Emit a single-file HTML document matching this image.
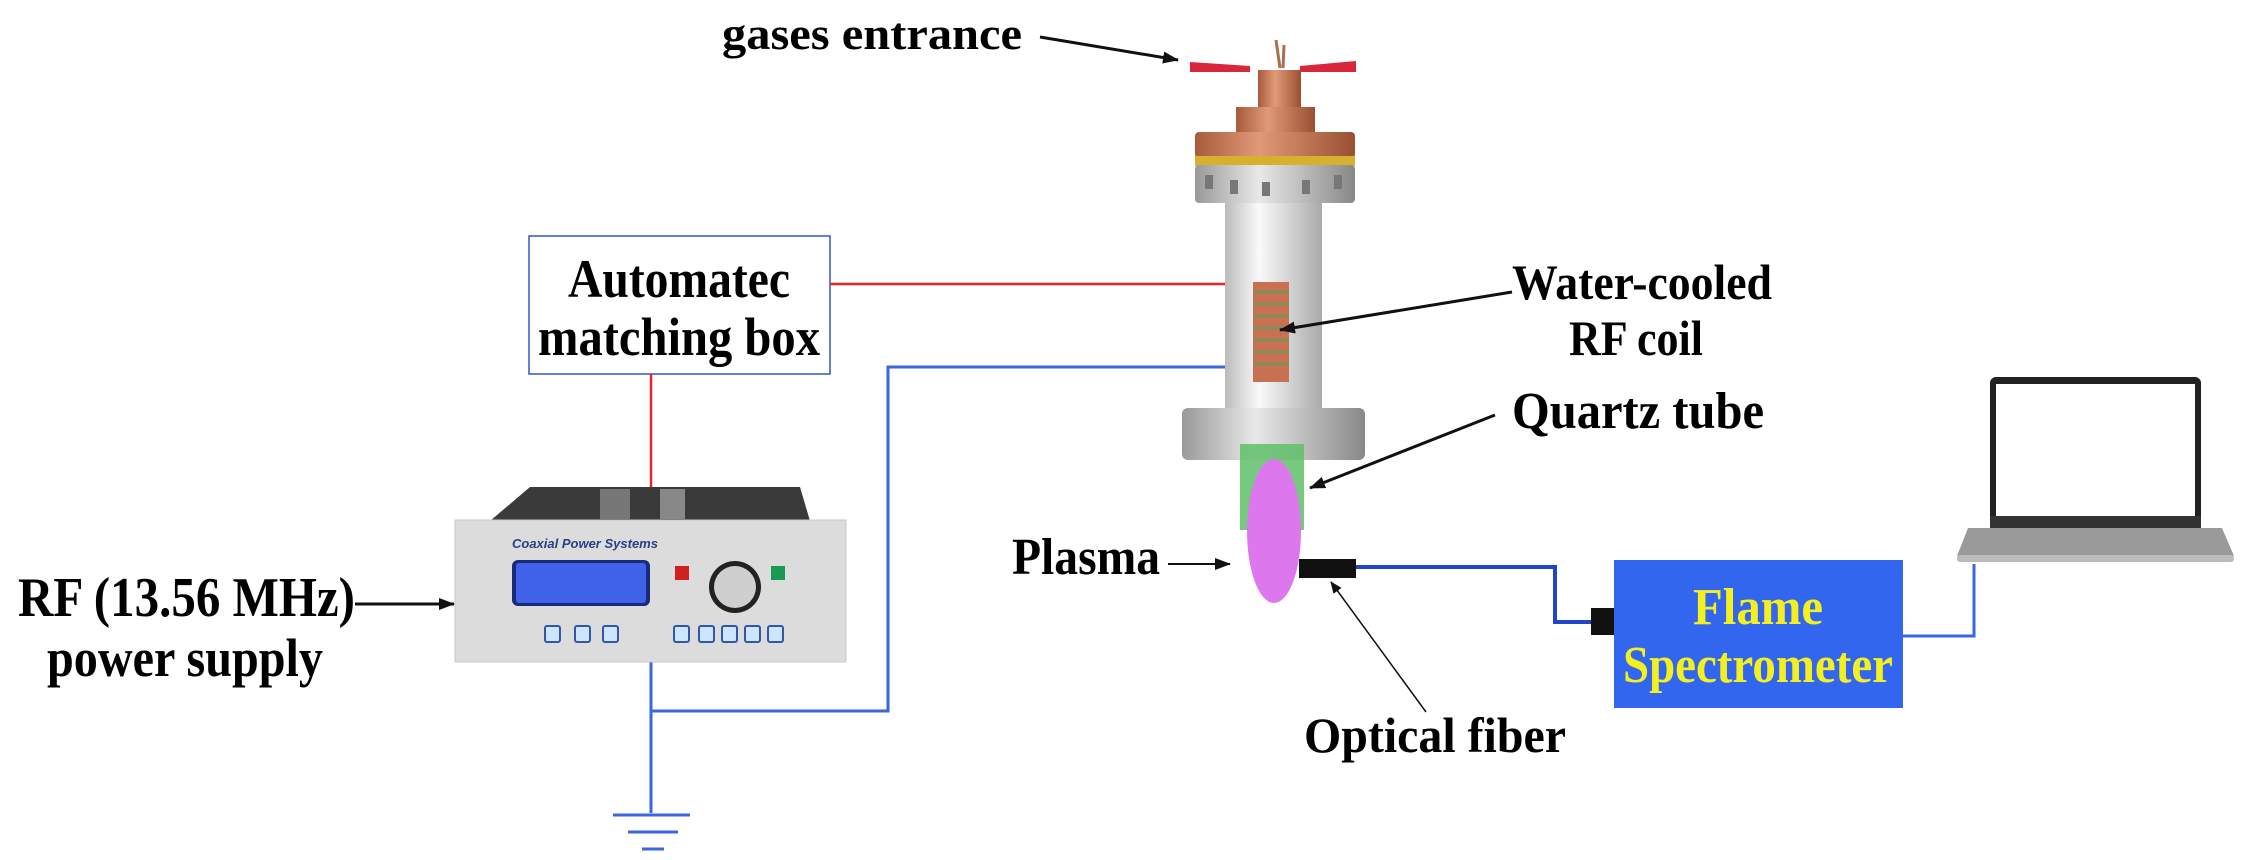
<!DOCTYPE html>
<html><head><meta charset="utf-8"><style>html,body{margin:0;padding:0;background:#fff}svg{display:block}</style></head>
<body>
<svg width="2251" height="860" viewBox="0 0 2251 860" xmlns="http://www.w3.org/2000/svg" font-family="'Liberation Serif',serif" font-weight="bold">
<defs>
<marker id="ah" markerWidth="16" markerHeight="12" refX="15" refY="6" orient="auto" markerUnits="userSpaceOnUse"><path d="M0,0 L16,6 L0,12 z" fill="#111"/></marker>
<marker id="ah2" markerWidth="12" markerHeight="10" refX="11" refY="5" orient="auto" markerUnits="userSpaceOnUse"><path d="M0,0 L12,5 L0,10 z" fill="#111"/></marker>
<linearGradient id="cyl" x1="0" x2="1"><stop offset="0" stop-color="#bbb"/><stop offset=".35" stop-color="#fafafa"/><stop offset="1" stop-color="#aaa"/></linearGradient>
<linearGradient id="cop" x1="0" x2="1"><stop offset="0" stop-color="#a85a3a"/><stop offset=".4" stop-color="#e09a78"/><stop offset="1" stop-color="#9a4f32"/></linearGradient>
<linearGradient id="fl" x1="0" x2="1"><stop offset="0" stop-color="#999"/><stop offset=".4" stop-color="#e8e8e8"/><stop offset="1" stop-color="#888"/></linearGradient>
</defs>

<text x="722" y="49" font-size="46" textLength="300" lengthAdjust="spacingAndGlyphs">gases entrance</text>
<line x1="1040" y1="37" x2="1178" y2="60" stroke="#111" stroke-width="3" marker-end="url(#ah)"/>

<rect x="529" y="236" width="301" height="138" fill="#fff" stroke="#3355cc" stroke-width="1.5"/>
<text x="679" y="297" font-size="54" text-anchor="middle" textLength="222" lengthAdjust="spacingAndGlyphs">Automatec</text>
<text x="679" y="355" font-size="54" text-anchor="middle" textLength="282" lengthAdjust="spacingAndGlyphs">matching box</text>

<line x1="830" y1="284" x2="1256" y2="284" stroke="#e8262a" stroke-width="2.5"/>
<line x1="651" y1="374" x2="651" y2="490" stroke="#e8262a" stroke-width="2.5"/>
<polyline points="1276,367 888,367 888,711 651,711" fill="none" stroke="#3a66e0" stroke-width="3"/>
<line x1="651" y1="660" x2="651" y2="813" stroke="#3a66e0" stroke-width="3"/>
<line x1="613" y1="815" x2="690" y2="815" stroke="#3a66e0" stroke-width="3"/>
<line x1="628" y1="832" x2="678" y2="832" stroke="#3a66e0" stroke-width="3"/>
<line x1="642" y1="849" x2="664" y2="849" stroke="#3a66e0" stroke-width="3"/>

<polygon points="530,487 800,487 810,521 490,521" fill="#3a3a3a"/>
<rect x="600" y="489" width="30" height="30" fill="#777"/><rect x="660" y="489" width="25" height="30" fill="#888"/>
<rect x="455" y="520" width="391" height="142" fill="#dcdcdc" stroke="#c8c8c8"/>
<text x="512" y="548" font-family="'Liberation Sans',sans-serif" font-style="italic" font-size="13" fill="#2a3f8a">Coaxial Power Systems</text>
<rect x="512" y="560" width="138" height="46" rx="6" fill="#1a2a7a"/>
<rect x="516" y="563" width="130" height="40" rx="3" fill="#3f62e8"/>
<rect x="675" y="566" width="14" height="14" fill="#d02020"/>
<rect x="771" y="566" width="14" height="14" fill="#1a9a50"/>
<circle cx="735" cy="587" r="26" fill="#222"/><circle cx="735" cy="587" r="21" fill="#cfcfcf"/>
<g fill="#cde6ff" stroke="#3355aa" stroke-width="2">
<rect x="545" y="626" width="15" height="16" rx="2"/><rect x="575" y="626" width="15" height="16" rx="2"/><rect x="603" y="626" width="15" height="16" rx="2"/>
<rect x="674" y="626" width="15" height="16" rx="2"/><rect x="699" y="626" width="15" height="16" rx="2"/><rect x="722" y="626" width="15" height="16" rx="2"/><rect x="745" y="626" width="15" height="16" rx="2"/><rect x="768" y="626" width="15" height="16" rx="2"/>
</g>

<text x="18" y="616" font-size="56" textLength="337" lengthAdjust="spacingAndGlyphs">RF (13.56 MHz)</text>
<text x="47" y="676" font-size="54" textLength="276" lengthAdjust="spacingAndGlyphs">power supply</text>
<line x1="355" y1="604" x2="454" y2="604" stroke="#111" stroke-width="3" marker-end="url(#ah)"/>

<path d="M1190,62 L1250,66 L1250,72 L1190,72 z" fill="#d8263a"/>
<path d="M1300,66 L1356,61 L1356,72 L1300,72 z" fill="#d8263a"/>
<path d="M1276,40 L1280,68 M1284,45 L1283,68" stroke="#a87050" stroke-width="3"/>
<rect x="1258" y="70" width="43" height="40" fill="url(#cop)"/>
<rect x="1236" y="107" width="79" height="26" fill="url(#cop)"/>
<rect x="1195" y="132" width="160" height="26" rx="4" fill="url(#cop)"/>
<rect x="1195" y="156" width="160" height="10" fill="#d8b030"/>
<rect x="1195" y="165" width="160" height="38" rx="4" fill="url(#fl)"/>
<g fill="#777"><rect x="1205" y="175" width="8" height="14"/><rect x="1230" y="180" width="8" height="14"/><rect x="1262" y="182" width="8" height="14"/><rect x="1302" y="180" width="8" height="14"/><rect x="1334" y="175" width="8" height="14"/></g>
<rect x="1225" y="203" width="97" height="206" fill="url(#cyl)"/>
<rect x="1253" y="282" width="36" height="100" fill="#c87050"/>
<g stroke="#5aa060" stroke-width="2"><line x1="1253" y1="292" x2="1289" y2="292"/><line x1="1253" y1="304" x2="1289" y2="304"/><line x1="1253" y1="316" x2="1289" y2="316"/><line x1="1253" y1="328" x2="1289" y2="328"/><line x1="1253" y1="340" x2="1289" y2="340"/><line x1="1253" y1="352" x2="1289" y2="352"/><line x1="1253" y1="364" x2="1289" y2="364"/></g>
<rect x="1182" y="408" width="183" height="52" rx="6" fill="url(#fl)"/>
<rect x="1240" y="444" width="64" height="86" fill="#5fbf6a" opacity=".85"/>
<ellipse cx="1274" cy="531" rx="27" ry="72" fill="#dd77ee"/>

<text x="1512" y="299" font-size="50" textLength="260" lengthAdjust="spacingAndGlyphs">Water-cooled</text>
<text x="1636" y="355" font-size="50" text-anchor="middle" textLength="134" lengthAdjust="spacingAndGlyphs">RF coil</text>
<line x1="1512" y1="292" x2="1280" y2="330" stroke="#111" stroke-width="3" marker-end="url(#ah)"/>
<text x="1512" y="428" font-size="52" textLength="252" lengthAdjust="spacingAndGlyphs">Quartz tube</text>
<line x1="1495" y1="415" x2="1310" y2="488" stroke="#111" stroke-width="3" marker-end="url(#ah)"/>
<text x="1012" y="574" font-size="52" textLength="148" lengthAdjust="spacingAndGlyphs">Plasma</text>
<line x1="1168" y1="564" x2="1230" y2="564" stroke="#111" stroke-width="2" marker-end="url(#ah)"/>

<rect x="1299" y="559" width="57" height="19" fill="#111"/>
<polyline points="1356,567 1555,567 1555,622 1592,622" fill="none" stroke="#2245c8" stroke-width="4"/>
<rect x="1591" y="608" width="23" height="27" fill="#111"/>
<line x1="1426" y1="712" x2="1331" y2="582" stroke="#111" stroke-width="1.5" marker-end="url(#ah2)"/>
<text x="1304" y="752" font-size="50" textLength="262" lengthAdjust="spacingAndGlyphs">Optical fiber</text>

<rect x="1614" y="560" width="289" height="148" fill="#3366ee"/>
<text x="1758" y="624" font-size="52" fill="#f4f020" text-anchor="middle" textLength="130" lengthAdjust="spacingAndGlyphs">Flame</text>
<text x="1758" y="682" font-size="52" fill="#f4f020" text-anchor="middle" textLength="270" lengthAdjust="spacingAndGlyphs">Spectrometer</text>
<polyline points="1903,636 1974,636 1974,564" fill="none" stroke="#3a66e0" stroke-width="3"/>

<rect x="1990" y="377" width="211" height="150" rx="6" fill="#222"/>
<rect x="1996" y="384" width="199" height="132" fill="#fff"/>
<rect x="1990" y="516" width="211" height="12" fill="#333"/>
<polygon points="1968,528 2222,528 2234,556 1957,556" fill="#9a9a9a"/>
<rect x="1957" y="555" width="277" height="7" rx="3" fill="#bbb"/>
</svg>
</body></html>
